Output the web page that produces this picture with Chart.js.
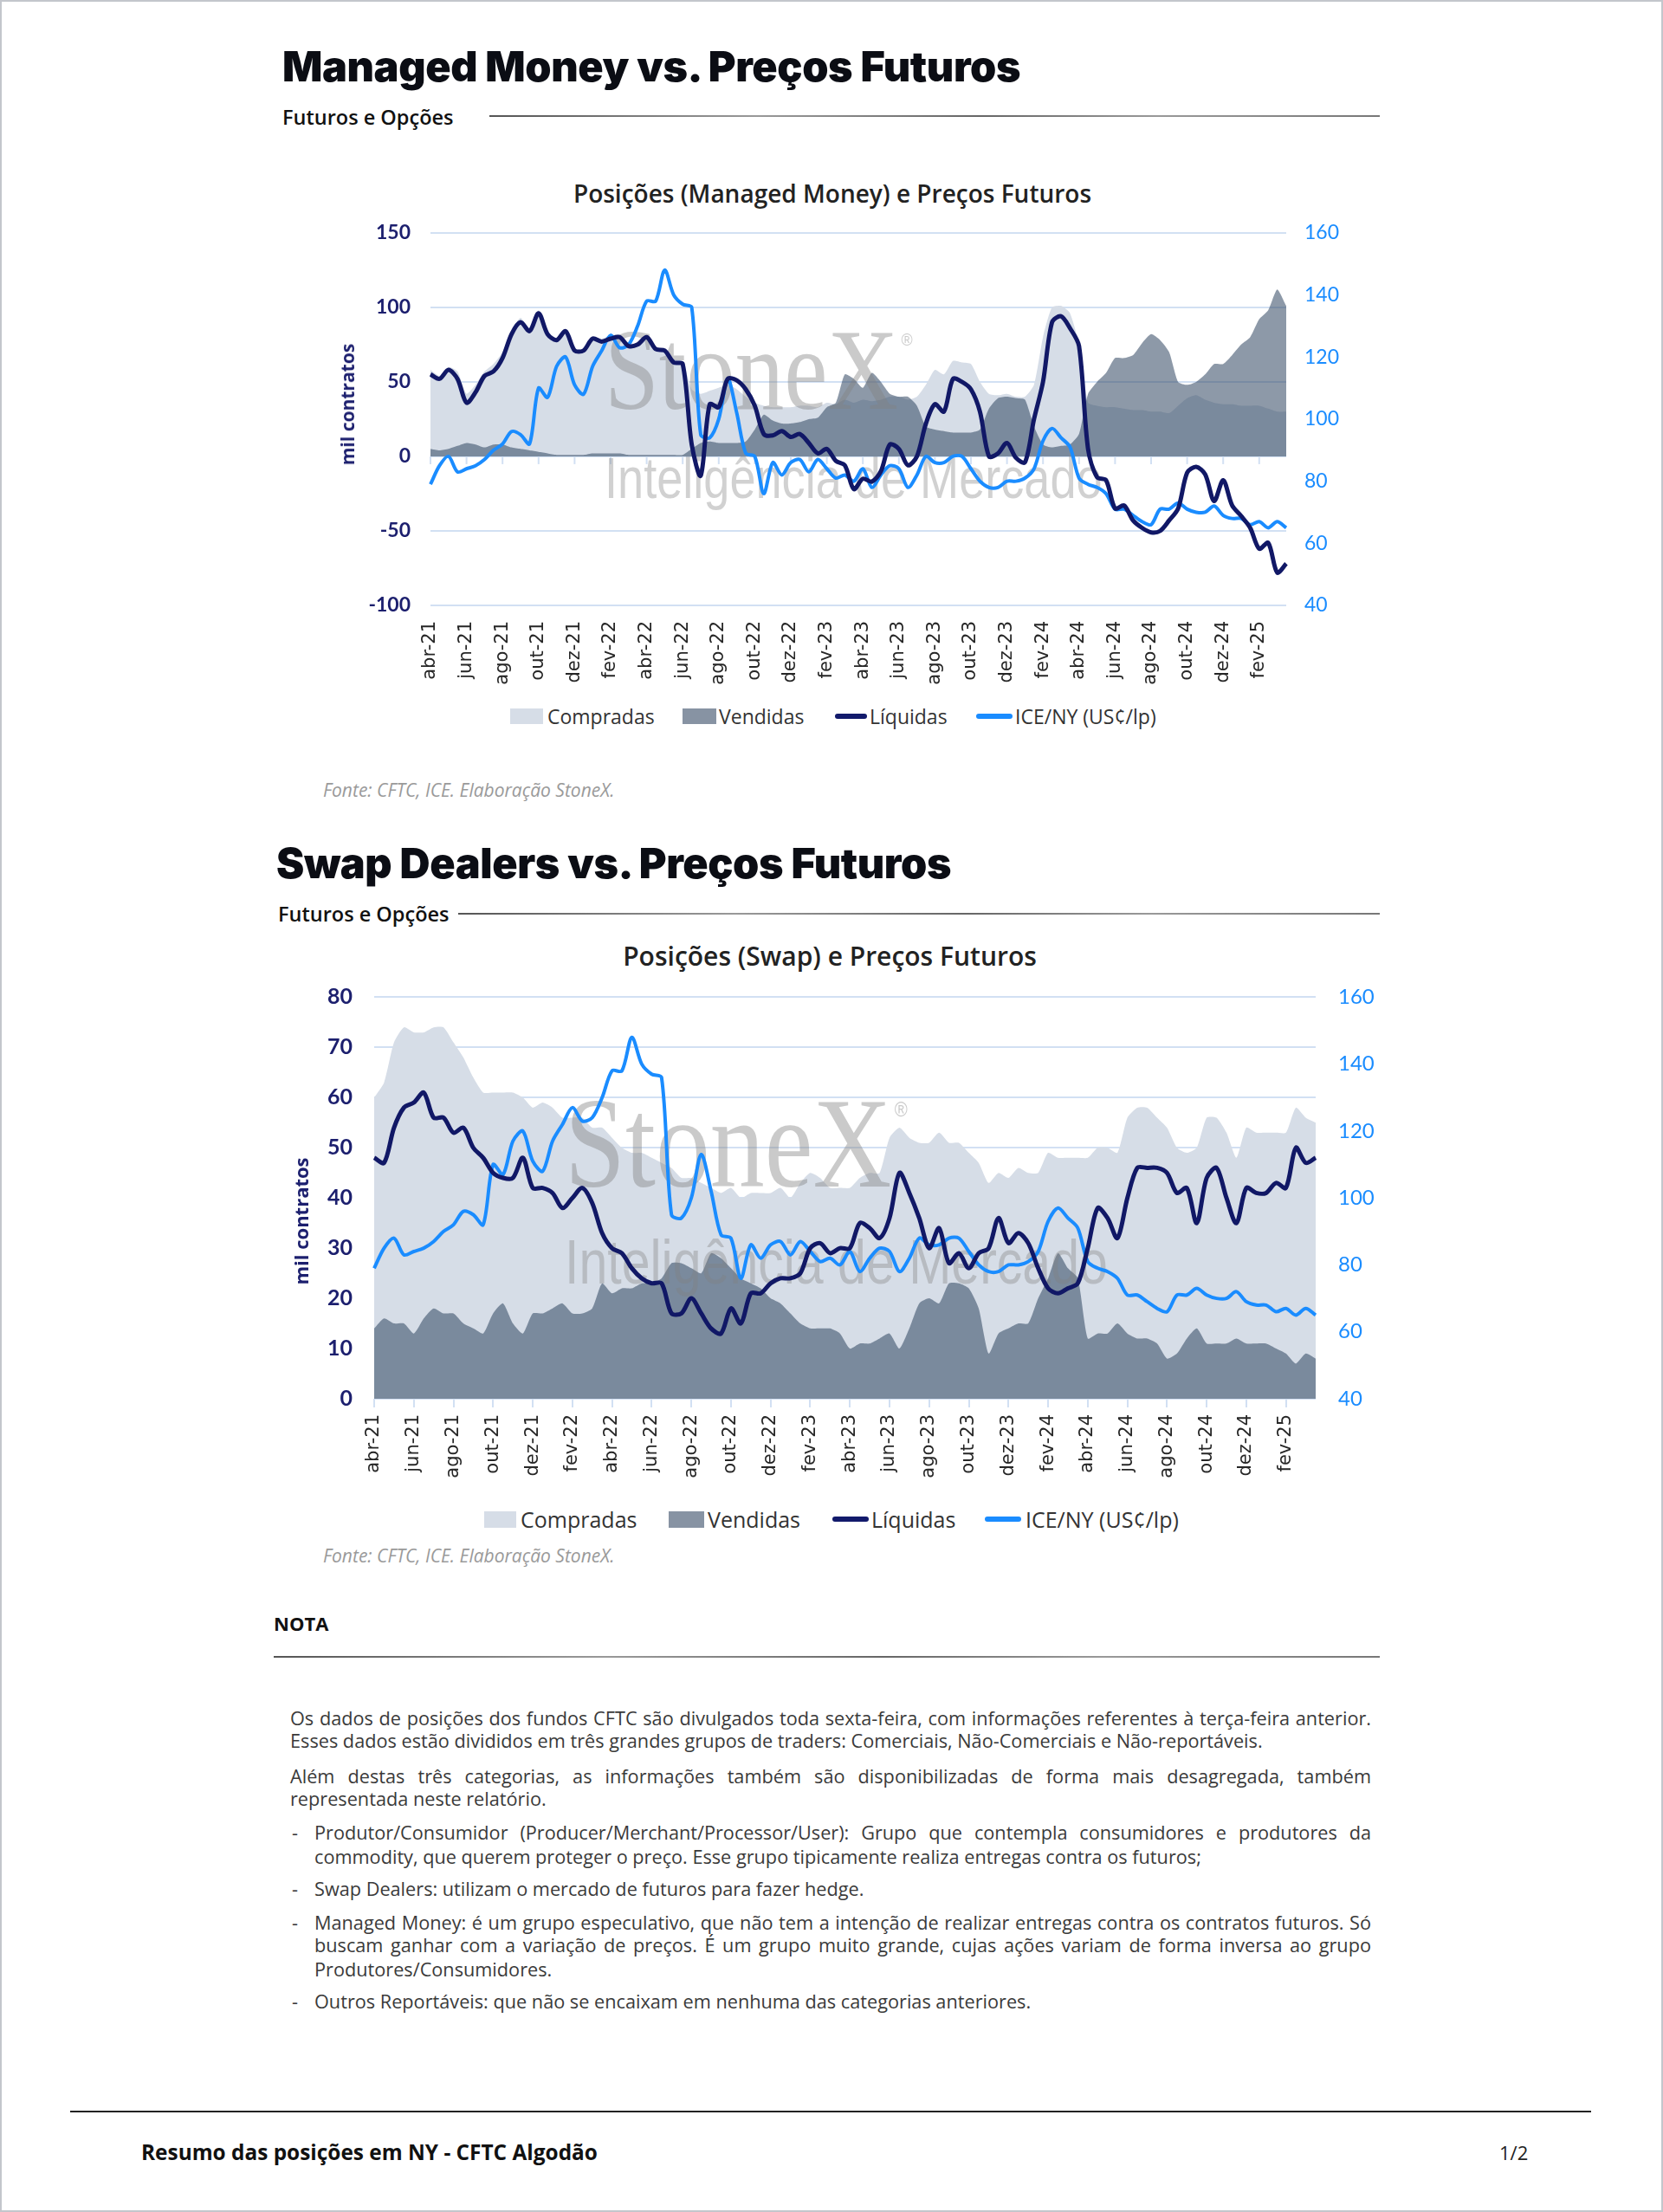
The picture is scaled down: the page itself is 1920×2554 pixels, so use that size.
<!DOCTYPE html>
<html lang="pt-BR">
<head>
<meta charset="utf-8">
<title>Resumo das posições em NY - CFTC Algodão</title>
<script src="https://cdn.jsdelivr.net/npm/chart.js@4.4.1/dist/chart.umd.min.js"></script>
<style>
  html, body { margin: 0; padding: 0; background: #fff; }
  body { width: 1920px; height: 2554px; position: relative; overflow: hidden; font-family: "Open Sans", sans-serif; color: #222; }
  .t { position: absolute; white-space: nowrap; }
  .h1 { font-family: Inter, Roboto, sans-serif; font-weight: 900; font-size: 48.5px; line-height: 56px; color: #0b0d14; letter-spacing: -0.4px; }
  .h2 { font-family: "Open Sans", sans-serif; font-weight: 600; font-size: 23.5px; line-height: 30px; color: #111; }
  .rule { position: absolute; height: 2px; background: linear-gradient(90deg, #555 0%, #999 30%, #666 55%, #999 75%, #777 100%); }
  .ctitle { font-family: "Open Sans", sans-serif; font-weight: 600; color: #222; transform: translateX(-50%); }
  .axt { font-family: "Open Sans", sans-serif; font-weight: 700; color: #1c1f6e; transform: translate(-50%, -50%) rotate(-90deg); }
  .src { font-family: "Open Sans", sans-serif; font-style: italic; font-size: 21px; line-height: 26px; color: #9a9a9a; }
  .leg { font-family: "Open Sans", sans-serif; color: #333; }
  .sw { position: absolute; }
  .wrap { position: absolute; }
  .p { position: absolute; font-family: "Open Sans", sans-serif; font-size: 21.7px; line-height: 27px; color: #3a3a3a; white-space: nowrap; }
  .j { text-align: justify; text-align-last: justify; white-space: normal; }
  #frame { position: absolute; left: 0; top: 0; width: 1920px; height: 2554px; box-sizing: border-box; border: 2px solid #c3c6cc; pointer-events: none; }
</style>
</head>
<body>

<!-- bloco 1 -->
<div class="t h1" style="left:326px;top:49px">Managed Money vs. Preços Futuros</div>
<div class="t h2" style="left:326px;top:120px">Futuros e Opções</div>
<div class="rule" style="left:565px;top:133px;width:1028px"></div>
<div class="t ctitle" style="left:961px;top:206px;font-size:28px;line-height:34px">Posições (Managed Money) e Preços Futuros</div>

<div class="wrap" style="left:380px;top:232px;width:1200px;height:568px"><canvas id="mmChart"></canvas></div>
<div class="t axt" style="left:401px;top:467px;font-size:21px;line-height:26px">mil contratos</div>

<div class="sw" style="left:589px;top:818px;width:38px;height:18px;background:#d6dde7"></div>
<div class="t leg" style="left:632px;top:812px;font-size:23px;line-height:30px">Compradas</div>
<div class="sw" style="left:788px;top:818px;width:39px;height:18px;background:#8793a3"></div>
<div class="t leg" style="left:830px;top:812px;font-size:23px;line-height:30px">Vendidas</div>
<div class="sw" style="left:964px;top:824px;width:37px;height:6px;border-radius:3px;background:#121a6b"></div>
<div class="t leg" style="left:1004px;top:812px;font-size:23px;line-height:30px">Líquidas</div>
<div class="sw" style="left:1127px;top:824px;width:42px;height:6px;border-radius:3px;background:#1a8cff"></div>
<div class="t leg" style="left:1172px;top:812px;font-size:23px;line-height:30px">ICE/NY (US¢/lp)</div>

<div class="t src" style="left:373px;top:899px">Fonte: CFTC, ICE. Elaboração StoneX.</div>

<!-- bloco 2 -->
<div class="t h1" style="left:319px;top:969px">Swap Dealers vs. Preços Futuros</div>
<div class="t h2" style="left:321px;top:1040px">Futuros e Opções</div>
<div class="rule" style="left:529px;top:1054px;width:1064px"></div>
<div class="t ctitle" style="left:958px;top:1086px;font-size:30px;line-height:36px">Posições (Swap) e Preços Futuros</div>

<div class="wrap" style="left:320px;top:1111px;width:1280px;height:619px"><canvas id="swapChart"></canvas></div>
<div class="t axt" style="left:347px;top:1410px;font-size:22px;line-height:27px">mil contratos</div>

<div class="sw" style="left:559px;top:1745px;width:37px;height:19px;background:#d6dde7"></div>
<div class="t leg" style="left:601px;top:1738px;font-size:25px;line-height:32px">Compradas</div>
<div class="sw" style="left:772px;top:1745px;width:41px;height:19px;background:#8793a3"></div>
<div class="t leg" style="left:817px;top:1738px;font-size:25px;line-height:32px">Vendidas</div>
<div class="sw" style="left:961px;top:1751px;width:42px;height:6px;border-radius:3px;background:#121a6b"></div>
<div class="t leg" style="left:1006px;top:1738px;font-size:25px;line-height:32px">Líquidas</div>
<div class="sw" style="left:1137px;top:1751px;width:42px;height:6px;border-radius:3px;background:#1a8cff"></div>
<div class="t leg" style="left:1184px;top:1738px;font-size:25px;line-height:32px">ICE/NY (US¢/lp)</div>

<div class="t src" style="left:373px;top:1783px">Fonte: CFTC, ICE. Elaboração StoneX.</div>

<!-- nota -->
<div class="t" style="left:316px;top:1859px;font-family:'Open Sans',sans-serif;font-weight:700;font-size:22px;line-height:30px;color:#111">NOTA</div>
<div class="rule" style="left:316px;top:1912px;width:1277px"></div>

<div class="p j" style="left:335px;top:1970px;width:1248px">Os dados de posições dos fundos CFTC são divulgados toda sexta-feira, com informações referentes à terça-feira anterior.</div>
<div class="p" style="left:335px;top:1996px">Esses dados estão divididos em três grandes grupos de traders: Comerciais, Não-Comerciais e Não-reportáveis.</div>
<div class="p j" style="left:335px;top:2037px;width:1248px">Além destas três categorias, as informações também são disponibilizadas de forma mais desagregada, também</div>
<div class="p" style="left:335px;top:2063px">representada neste relatório.</div>

<div class="p" style="left:337px;top:2102px">-</div>
<div class="p j" style="left:363px;top:2102px;width:1220px">Produtor/Consumidor (Producer/Merchant/Processor/User): Grupo que contempla consumidores e produtores da</div>
<div class="p" style="left:363px;top:2130px">commodity, que querem proteger o preço. Esse grupo tipicamente realiza entregas contra os futuros;</div>

<div class="p" style="left:337px;top:2167px">-</div>
<div class="p" style="left:363px;top:2167px">Swap Dealers: utilizam o mercado de futuros para fazer hedge.</div>

<div class="p" style="left:337px;top:2206px">-</div>
<div class="p j" style="left:363px;top:2206px;width:1220px">Managed Money: é um grupo especulativo, que não tem a intenção de realizar entregas contra os contratos futuros. Só</div>
<div class="p j" style="left:363px;top:2232px;width:1220px">buscam ganhar com a variação de preços. É um grupo muito grande, cujas ações variam de forma inversa ao grupo</div>
<div class="p" style="left:363px;top:2260px">Produtores/Consumidores.</div>

<div class="p" style="left:337px;top:2297px">-</div>
<div class="p" style="left:363px;top:2297px">Outros Reportáveis: que não se encaixam em nenhuma das categorias anteriores.</div>

<!-- rodape -->
<div style="position:absolute;left:81px;top:2437px;width:1756px;height:2px;background:#222"></div>
<div class="t" style="left:163px;top:2469px;font-family:'Open Sans',sans-serif;font-weight:700;font-size:24.4px;line-height:32px;color:#111">Resumo das posições em NY - CFTC Algodão</div>
<div class="t" style="left:1731px;top:2470px;font-family:'Open Sans',sans-serif;font-size:22px;line-height:30px;color:#222">1/2</div>

<div id="frame"></div>

<script>
// meses do eixo (duas leituras por mes, de abr-21 a mar-25)
const months = ['abr-21','mai-21','jun-21','jul-21','ago-21','set-21','out-21','nov-21','dez-21',
  'jan-22','fev-22','mar-22','abr-22','mai-22','jun-22','jul-22','ago-22','set-22','out-22','nov-22','dez-22',
  'jan-23','fev-23','mar-23','abr-23','mai-23','jun-23','jul-23','ago-23','set-23','out-23','nov-23','dez-23',
  'jan-24','fev-24','mar-24','abr-24','mai-24','jun-24','jul-24','ago-24','set-24','out-24','nov-24','dez-24',
  'jan-25','fev-25','mar-25'];
const periods = months.flatMap(m => [m, m]);

// ICE/NY (US¢/lp) - igual nos dois graficos
const icePrice = [79,85,88,83,84,85,87,90,92,96, 95,92,110,107,117,120,111,108,117,122,
  127,123,124,130,138,138,148,140,137,136, 95,94,100,113,102,89,88,76,86,82,
  86,87,83,87,84,81,82,80,84,78, 82,85,84,78,82,88,86,86,88,88,
  84,80,78,78,80,80,81,84,93,97, 94,91,81,79,78,76,71,71,69,67,
  66,71,71,73,71,70,70,72,69,68, 68,66,67,65,67,65];

// Managed Money (mil contratos)
const mmLong = [58,54,60,57,42,48,57,62,70,85, 93,86,98,84,79,85,72,72,80,79,
  81,82,76,76,81,73,72,65,64,45, 42,44,46,48,45,40,36,34,33,33,
  33,34,34,33,36,35,38,36,38,37, 38,40,40,38,40,48,58,55,64,63,
  62,50,42,41,42,40,40,48,80,100, 101,96,75,36,34,33,33,32,31,31,
  30,30,29,34,39,41,38,36,35,35, 34,34,34,32,30,30];
const mmShort = [5,4,5,7,9,8,6,8,8,6, 5,4,3,2,1,1,1,1,2,2,
  2,2,1,1,1,1,1,1,1,5, 9,10,9,9,9,10,18,28,24,22,
  22,23,25,26,33,36,55,52,46,56, 50,42,40,40,34,20,18,17,16,16,
  16,18,32,39,40,39,38,20,8,6, 7,8,15,42,50,56,66,66,68,76,
  82,78,70,50,48,50,55,62,62,68, 75,80,92,98,112,101];
const mmNet = [55,52,58,52,36,43,54,57,66,82, 90,84,96,82,78,84,71,71,79,77,
  79,80,74,75,80,72,71,63,62,8, -13,35,33,52,51,45,34,15,14,17,
  13,15,9,2,5,-3,-6,-22,-15,-17, -10,8,5,-6,0,22,35,30,52,50,
  45,30,0,2,9,-1,-4,25,50,90, 94,86,74,5,-14,-16,-35,-33,-43,-48,
  -51,-50,-43,-35,-11,-7,-12,-30,-16,-33, -40,-48,-62,-58,-78,-72];

// Swap Dealers (mil contratos)
const swapLong = [60,63,71,74,73,73,74,74,71,68, 64,61,61,61,61,60,58,59,58,56,
  56,56,54,54,52,50,49,49,48,47, 46,44,44,43,42,41,42,40,41,41,
  41,42,40,43,45,44,42,42,42,44, 45,45,52,54,52,51,51,53,51,51,
  49,47,43,45,44,46,45,45,49,48, 48,48,48,50,50,49,56,58,58,56,
  54,50,49,50,56,56,53,48,54,53, 53,53,53,58,56,55];
const swapShort = [14,16,15,15,13,16,18,17,17,15, 14,13,17,19,15,13,17,17,18,19,
  17,17,18,23,21,22,22,23,23,24, 27,27,26,25,29,28,26,24,23,22,
  20,19,17,15,14,14,14,13,10,11, 11,12,13,10,14,19,20,19,23,23,
  22,18,9,13,14,15,15,20,24,29, 26,24,12,13,13,15,13,12,12,11,
  8,9,12,14,11,11,11,12,11,11, 11,10,9,7,9,8];
const swapNet = [48,47,54,58,59,61,56,56,53,54, 50,48,45,44,44,48,42,42,41,38,
  40,42,39,33,30,29,26,24,23,23, 17,17,20,17,14,13,18,15,21,21,
  23,24,24,25,30,31,29,30,30,35, 34,32,36,45,41,36,30,34,27,29,
  26,29,30,36,31,33,31,26,22,21, 22,23,30,38,36,32,40,46,46,46,
  45,41,42,35,44,46,40,35,42,41, 41,43,42,50,47,48];

const NAVY = '#111866';
const BLUE = '#1a8cff';
const LIGHT = '#d6dde7';
const DARK = 'rgba(48,70,97,0.55)';
const GRID = '#d2e0f3';

function monthTick(value, index) {
  return index % 4 === 0 ? months[index / 2] : '';
}

function makeDatasets(longArr, shortArr, netArr) {
  return [
    { label: 'Líquidas', data: netArr, yAxisID: 'y', borderColor: NAVY, borderWidth: 5,
      pointRadius: 0, tension: 0.3, fill: false },
    { label: 'ICE/NY (US¢/lp)', data: icePrice, yAxisID: 'y1', borderColor: BLUE, borderWidth: 4,
      pointRadius: 0, tension: 0.3, fill: false },
    { label: 'Vendidas', data: shortArr, yAxisID: 'y', backgroundColor: DARK, borderColor: 'rgba(0,0,0,0)',
      borderWidth: 0, pointRadius: 0, tension: 0.2, fill: 'origin' },
    { label: 'Compradas', data: longArr, yAxisID: 'y', backgroundColor: LIGHT, borderColor: 'rgba(0,0,0,0)',
      borderWidth: 0, pointRadius: 0, tension: 0.2, fill: 'origin' }
  ];
}

// marca d'agua desenhada depois das areas e antes das linhas
function watermark(sx, sy, sSize, ix, iy, iSize) {
  return {
    id: 'wm',
    afterDatasetDraw(chart, args) {
      if (args.index !== 2) return;
      const ctx = chart.ctx;
      ctx.save();
      ctx.fillStyle = 'rgba(128,128,128,0.42)';
      ctx.textBaseline = 'alphabetic';
      ctx.save();
      ctx.translate(sx, sy);
      ctx.scale(0.85, 1);
      ctx.font = sSize + 'px "Liberation Serif", "DejaVu Serif", serif';
      ctx.fillText('StoneX', 0, 0);
      const w = ctx.measureText('StoneX').width;
      ctx.font = Math.round(sSize * 0.16) + 'px "Liberation Sans", sans-serif';
      ctx.fillText('®', w + 4, -sSize * 0.55);
      ctx.restore();
      ctx.fillStyle = 'rgba(128,128,128,0.36)';
      ctx.translate(ix, iy);
      ctx.scale(0.82, 1);
      ctx.font = iSize + 'px "Liberation Sans", sans-serif';
      ctx.fillText('Inteligência de Mercado', 0, 0);
      ctx.restore();
    }
  };
}

// pequenos tracos do eixo x sobre a linha do zero (grafico 1)
const zeroTicks = {
  id: 'zeroTicks',
  beforeDatasetsDraw(chart) {
    const x = chart.scales.x, y = chart.scales.y;
    const ctx = chart.ctx;
    const y0 = y.getPixelForValue(0);
    ctx.save();
    ctx.strokeStyle = GRID;
    ctx.lineWidth = 2;
    for (let i = 0; i < periods.length; i += 4) {
      const px = x.getPixelForValue(i);
      ctx.beginPath();
      ctx.moveTo(px, y0);
      ctx.lineTo(px, y0 + 9);
      ctx.stroke();
    }
    ctx.restore();
  }
};

const xFont = { family: '"DejaVu Sans", Verdana, sans-serif', size: 21 };

const mmCtx = document.getElementById('mmChart').getContext('2d');
const mmChart = new Chart(mmCtx, {
  type: 'line',
  data: { labels: periods, datasets: makeDatasets(mmLong, mmShort, mmNet) },
  options: {
    responsive: true,
    maintainAspectRatio: false,
    animation: false,
    layout: { padding: 0 },
    plugins: { legend: { display: false }, tooltip: { enabled: false } },
    scales: {
      x: {
        grid: { display: false, drawTicks: false },
        border: { display: false },
        ticks: { autoSkip: false, maxRotation: 90, minRotation: 90, padding: 18, color: '#262626',
          font: xFont, callback: monthTick },
        afterFit(s) { s.height = 101; }
      },
      y: {
        position: 'left', min: -100, max: 150,
        ticks: { stepSize: 50, padding: 23, color: '#1c1f6e', font: { family: 'Lato, sans-serif', size: 23, weight: 'bold' } },
        grid: { color: GRID, lineWidth: 2, drawTicks: false },
        border: { display: false },
        afterFit(s) { s.width = 117; }
      },
      y1: {
        position: 'right', min: 40, max: 160,
        ticks: { stepSize: 20, padding: 21, color: BLUE, font: { family: 'Lato, sans-serif', size: 23 } },
        grid: { display: false, drawTicks: false },
        border: { display: false },
        afterFit(s) { s.width = 95; }
      }
    }
  },
  plugins: [zeroTicks, watermark(318, 240, 133, 318, 343, 66)]
});

const swCtx = document.getElementById('swapChart').getContext('2d');
const swapChart = new Chart(swCtx, {
  type: 'line',
  data: { labels: periods, datasets: makeDatasets(swapLong, swapShort, swapNet) },
  options: {
    responsive: true,
    maintainAspectRatio: false,
    animation: false,
    layout: { padding: 0 },
    plugins: { legend: { display: false }, tooltip: { enabled: false } },
    scales: {
      x: {
        grid: { drawOnChartArea: false, drawTicks: true, tickLength: 10, lineWidth: 2,
          color: ctx => (ctx.index % 4 === 0 ? GRID : 'rgba(0,0,0,0)') },
        border: { display: false },
        ticks: { autoSkip: false, maxRotation: 90, minRotation: 90, padding: 8, color: '#262626',
          font: xFont, callback: monthTick },
        afterFit(s) { s.height = 115; }
      },
      y: {
        position: 'left', min: 0, max: 80,
        ticks: { stepSize: 10, padding: 25, color: '#1c1f6e', font: { family: 'Lato, sans-serif', size: 25, weight: 'bold' } },
        grid: { color: GRID, lineWidth: 2, drawTicks: false },
        border: { display: false },
        afterFit(s) { s.width = 112; }
      },
      y1: {
        position: 'right', min: 40, max: 160,
        ticks: { stepSize: 20, padding: 26, color: BLUE, font: { family: 'Lato, sans-serif', size: 24 } },
        grid: { display: false, drawTicks: false },
        border: { display: false },
        afterFit(s) { s.width = 81; }
      }
    }
  },
  plugins: [watermark(332, 259, 148, 332, 371, 72)]
});
</script>
</body>
</html>
